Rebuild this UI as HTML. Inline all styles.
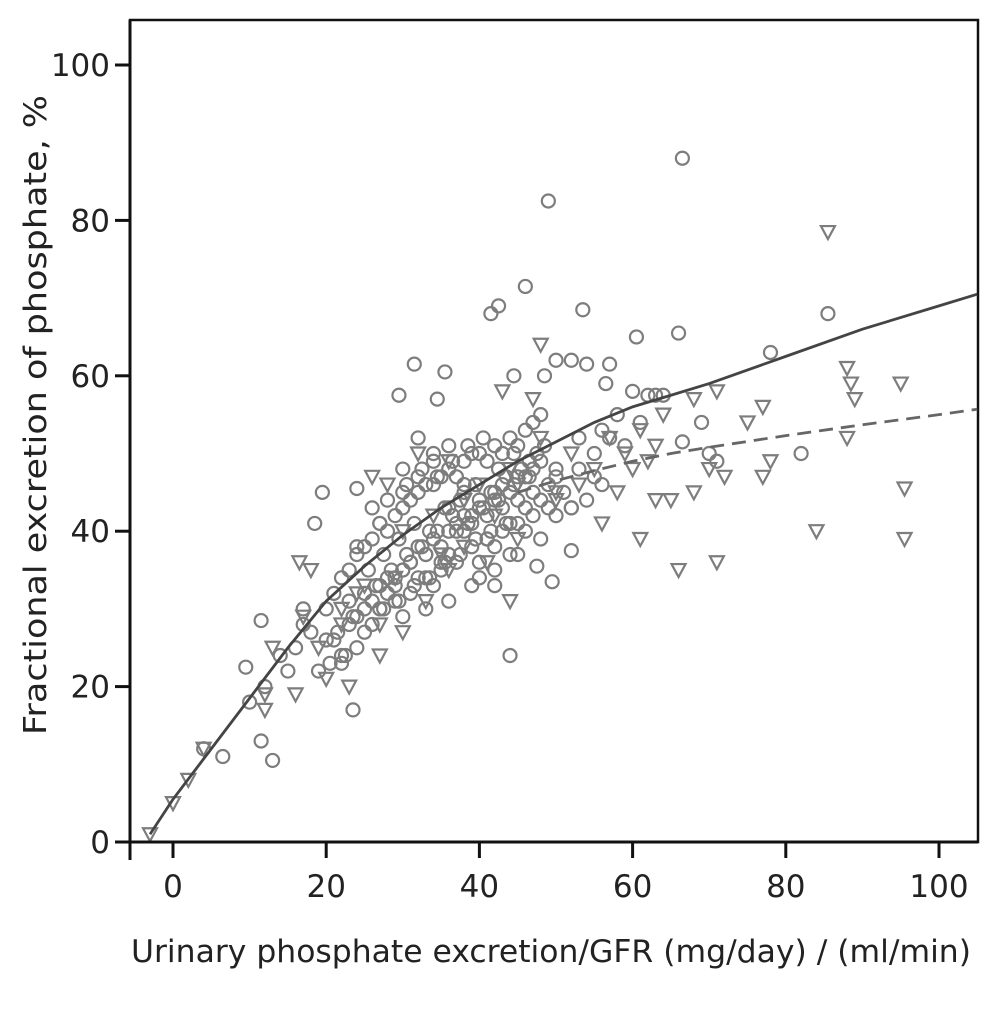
<!DOCTYPE html>
<html><head><meta charset="utf-8"><style>
html,body{margin:0;padding:0;background:#fff;}
svg{display:block;font-family:"DejaVu Sans","Liberation Sans",sans-serif;}
</style></head><body>
<svg id="chart" width="998" height="1016" viewBox="0 0 998 1016" xmlns="http://www.w3.org/2000/svg">
<rect x="130" y="20" width="848" height="822" fill="#fff" stroke="#111" stroke-width="2.5"/>
<g id="marks"></g>
<g id="curves"></g>
<g id="axes"></g>
<text x="551" y="962" font-size="31" fill="#222" text-anchor="middle" textLength="840" lengthAdjust="spacingAndGlyphs">Urinary phosphate excretion/GFR (mg/day) / (ml/min)</text>
<text transform="translate(46,415) rotate(-90)" font-size="31" fill="#222" text-anchor="middle" textLength="640" lengthAdjust="spacingAndGlyphs">Fractional excretion of phosphate,  %</text>
</svg>
<script>
const xTicks=[0,20,40,60,80,100];
const yTicks=[0,20,40,60,80,100];
const circlesX=[66.5,49,41.5,42.5,46,53.5,60.5,66,85.5,78,82,31.5,34.5,35.5,29.5,44,23.5,13,11.5,6.5,4,9.5,11.5,19.5,18.5,24,50,52,57,54,48.5,44.5,60,62,63,64,56.5,69,66.5,71,70,55,53,52,49.5,47.5,
20,21,22,23,24,25,26,27,28,29,30,31,32,33,34,35,36,37,38,39,40,41,42,43,44,45,46,47,48,
21,23,25,27,29,31,33,35,37,39,41,43,45,47,49,
22,24,26,28,30,32,34,36,38,40,42,44,46,48,50,
25,27,29,31,33,35,37,39,41,43,45,47,
28,30,32,34,36,38,40,42,44,46,
30,32,34,36,38,40,42,
26,28,30,32,34,36,38,40,42,44,46,48,50,52,54,56,
24,27,30,33,36,39,42,45,48,
18,20,22,24,26,16,15,12,10,14,17,
51,53,55,57,59,61,58,56,50,52,
25.5,27.5,29.5,31.5,33.5,35.5,37.5,39.5,41.5,43.5,45.5,47.5,
26.5,28.5,30.5,32.5,34.5,36.5,38.5,40.5,42.5,44.5,46.5,
27.5,29.5,31.5,33.5,35.5,37.5,39.5,41.5,43.5,
23,25,27,29,31,33,35,37,39,41,43,45,47,49,
30.5,32.5,34.5,36.5,38.5,40.5,42.5,44.5,46.5,48.5,
21.5,23.5,20.5,22.5,19,17];
const circlesY=[88,82.5,68,69,71.5,68.5,65,65.5,68,63,50,61.5,57,60.5,57.5,24,17,10.5,13,11,12,22.5,28.5,45,41,45.5,62,62,61.5,61.5,60,60,58,57.5,57.5,57.5,59,54,51.5,49,50,47,52,37.5,33.5,35.5,
30,32,34,35,37,38,39,41,40,42,43,44,45,46,46,47,48,47,49,50,50,49,51,50,52,51,53,54,55,
26,28,30,33,34,36,37,38,40,41,42,43,44,45,46,
24,29,31,34,35,38,39,40,42,43,44,45,47,49,48,
27,30,33,36,37,36,41,42,39,46,47,48,
32,35,34,33,37,40,44,45,41,43,
45,47,49,43,45,36,38,
43,44,48,52,50,51,46,34,33,37,40,39,42,43,44,46,
38,41,29,30,31,33,35,37,44,
27,26,23,25,28,25,22,20,18,24,30,
45,48,50,52,51,54,55,53,47,43,
35,37,39,41,40,43,44,46,45,47,48,50,
33,35,37,38,40,42,41,43,44,46,47,
30,31,33,34,36,37,39,40,41,
31,32,30,31,32,34,35,36,38,39,40,41,42,43,
46,48,47,49,51,52,48,50,49,51,
27,29,23,24,22,28];
const triX=[-3,0,2,4,12,12,13,16,17,20,22,23,27,30,44,45,48,50,53,56,58,60,61,62,63,64,65,66,68,68,70,71,71,72,75,77,77,78,84,85.5,88,88,88.5,89,95,95.5,95.5,47,48,43,36,40,42,38,45,34,30,25,27,19,22,33,36,52,55,57,59,61,63,16.5,18,26,28,32,38,44,50,35,41,29,24];
const triY=[1,5,8,12,17,19,25,19,29,21,28,20,24,27,31,46,64,44,46,41,45,48,39,49,44,55,44,35,45,57,48,36,58,47,54,47,56,49,40,78.5,61,52,59,57,59,45.5,39,57,52,58,49,46,42,38,39,42,40,33,28,25,30,31,35,50,48,52,50,53,51,36,35,47,46,50,44,48,45,37,36,34,32];
const curveSolidX=[-3,0,5,10,15,20,25,30,35,40,45,50,55,60,65,70,80,90,100,105];
const curveSolidY=[1,5.5,12,18.5,25,31,35.5,39.5,43,46,49,51.5,54,56,57.5,59,62.5,66,69,70.5];
const curveDashX=[45,50,55,60,65,70,80,90,100,105];
const curveDashY=[45,46.5,47.8,49,50,50.8,52.3,53.7,55,55.7];

const NS='http://www.w3.org/2000/svg';
function sx(v){return 173+v*7.66;}
function sy(v){return 842-v*7.77;}
function mk(t,a,p){const e=document.createElementNS(NS,t);for(const k in a)e.setAttribute(k,a[k]);p.appendChild(e);return e;}
const marks=document.getElementById('marks');
for(let i=0;i<circlesX.length;i++){
  const c=mk('circle',{cx:sx(circlesX[i]),cy:sy(circlesY[i]),r:6.5,fill:'none',stroke:'#7d7d7d','stroke-width':2.2},marks);
  
  
}
for(let i=0;i<triX.length;i++){
  const x=sx(triX[i]),y=sy(triY[i]);
  const t=mk('path',{d:`M${x-7},${y-6}L${x+7},${y-6}L${x},${y+7}Z`,fill:'none',stroke:'#7d7d7d','stroke-width':2.2},marks);
  
  
}
const curves=document.getElementById('curves');
function pts(X,Y){return X.map((v,i)=>sx(v)+','+sy(Y[i])).join(' ');}
const s=mk('polyline',{points:pts(curveSolidX,curveSolidY),fill:'none',stroke:'#444','stroke-width':2.8},curves);


const d=mk('polyline',{points:pts(curveDashX,curveDashY),fill:'none',stroke:'#666','stroke-width':2.8,'stroke-dasharray':'14 8'},curves);


const axes=document.getElementById('axes');
const xl=mk('line',{x1:115,y1:842,x2:978,y2:842,stroke:'#111','stroke-width':3},axes);


const yl=mk('line',{x1:130,y1:20,x2:130,y2:860,stroke:'#111','stroke-width':3},axes);


xTicks.forEach(v=>{
  const t=mk('line',{x1:sx(v),y1:842,x2:sx(v),y2:858,stroke:'#111','stroke-width':3},axes);
  
  
  const l=mk('text',{x:sx(v),y:897,'font-size':31,fill:'#222','text-anchor':'middle'},axes);
  l.textContent=v;
  
  
});
yTicks.forEach(v=>{
  const t=mk('line',{x1:115,y1:sy(v),x2:130,y2:sy(v),stroke:'#111','stroke-width':3},axes);
  
  
  const l=mk('text',{x:110,y:sy(v)+11,'font-size':31,fill:'#222','text-anchor':'end'},axes);
  l.textContent=v;
  
  
});
</script>
</body></html>
